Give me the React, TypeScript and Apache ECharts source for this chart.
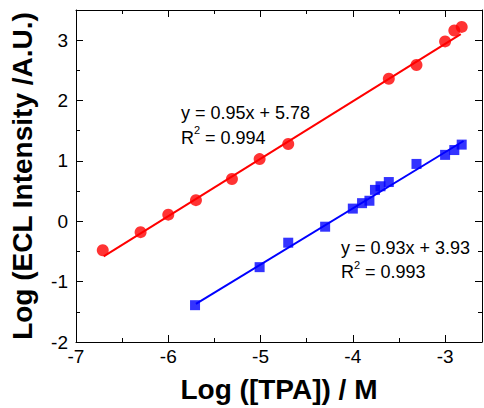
import React, { useEffect, useRef } from "react";
import * as echarts from "echarts";

const xRed = [-6.71, -6.3, -6.0, -5.7, -5.31, -5.01, -4.7, -3.61, -3.31, -3.0, -2.9, -2.82];
const yRed = [-0.48, -0.18, 0.11, 0.35, 0.7, 1.03, 1.28, 2.36, 2.59, 2.98, 3.16, 3.22];
const xBlue = [-5.71, -5.01, -4.7, -4.3, -4.0, -3.9, -3.82, -3.76, -3.7, -3.61, -3.31, -3.0, -2.9, -2.82];
const yBlue = [-1.39, -0.76, -0.355, -0.09, 0.21, 0.3, 0.34, 0.52, 0.58, 0.65, 0.95, 1.1, 1.18, 1.27];
const redFitX = [-6.7, -2.83];
const redFitY = [-0.58, 3.1];
const blueFitX = [-5.7, -2.8];
const blueFitY = [-1.37, 1.33];
const xMajor = [-7, -6, -5, -4, -3];
const xMinor = [-6.5, -5.5, -4.5, -3.5];
const yMajor = [-2, -1, 0, 1, 2, 3];
const yMinor = [-1.5, -0.5, 0.5, 1.5, 2.5];
const xTitle = "Log ([TPA]) / M";
const yTitle = "Log (ECL Intensity /A.U.)";
const redEq = "y = 0.95x + 5.78";
const redR2 = " = 0.994";
const blueEq = "y = 0.93x + 3.93";
const blueR2 = " = 0.993";

const FONT = "'Liberation Sans', Arial, Helvetica, sans-serif";

function zip(xs: number[], ys: number[]) {
  return xs.map((x, i) => [x, ys[i]]);
}

export default function App() {
  const ref = useRef<HTMLDivElement>(null);
  useEffect(() => {
    if (!ref.current) return;
    const chart = echarts.init(ref.current, undefined, { renderer: "svg" });
    const line = { show: true, onZero: false, lineStyle: { color: "#000", width: 1 } };
    const noLine = { show: false, onZero: false };
    const mkX = (pos: string, major: boolean, labels: boolean, extra: any = {}) => ({
      type: "value",
      position: pos,
      min: -7,
      max: -2.6,
      interval: 1,
      axisLine: major ? line : noLine,
      splitLine: { show: false },
      axisTick: {
        show: true,
        inside: true,
        length: major ? 7 : 4,
        customValues: major ? xMajor : xMinor,
        lineStyle: { color: "#000", width: 1 },
      },
      axisLabel: labels
        ? { show: true, customValues: xMajor, fontSize: 19, color: "#000", fontFamily: FONT, margin: 5 }
        : { show: false },
      ...extra,
    });
    const mkY = (pos: string, major: boolean, labels: boolean, extra: any = {}) => ({
      type: "value",
      position: pos,
      min: -2,
      max: 3.5,
      interval: 1,
      axisLine: major ? line : noLine,
      splitLine: { show: false },
      axisTick: {
        show: true,
        inside: true,
        length: major ? 7 : 4,
        customValues: major ? yMajor : yMinor,
        lineStyle: { color: "#000", width: 1 },
      },
      axisLabel: labels
        ? { show: true, customValues: yMajor, fontSize: 19, color: "#000", fontFamily: FONT, margin: 8 }
        : { show: false },
      ...extra,
    });
    const titleStyle = { fontSize: 28, fontWeight: "bold", color: "#000", fontFamily: FONT };
    const txt = (x: number, y: number, text: string, size = 18) => ({
      type: "text",
      x,
      y,
      style: { text, fontSize: size, fontFamily: FONT, fill: "#000", textVerticalAlign: "middle" },
    });
    chart.setOption({
      animation: false,
      backgroundColor: "#fff",
      grid: { left: 76, top: 10, right: 2, bottom: 62, containLabel: false },
      xAxis: [
        mkX("bottom", true, true, {
          name: xTitle,
          nameLocation: "middle",
          nameGap: 33,
          nameTextStyle: titleStyle,
        }),
        mkX("bottom", false, false),
        mkX("top", true, false),
        mkX("top", false, false),
      ],
      yAxis: [
        mkY("left", true, true, {
          name: yTitle,
          nameLocation: "middle",
          nameGap: 40,
          nameTextStyle: titleStyle,
        }),
        mkY("left", false, false),
        mkY("right", true, false),
        mkY("right", false, false),
      ],
      series: [
        {
          type: "line",
          data: zip(redFitX, redFitY),
          symbol: "none",
          lineStyle: { color: "#ff0000", width: 2 },
          z: 1,
        },
        {
          type: "line",
          data: zip(blueFitX, blueFitY),
          symbol: "none",
          lineStyle: { color: "#0000ff", width: 2 },
          z: 1,
        },
        {
          type: "scatter",
          data: zip(xRed, yRed),
          symbol: "circle",
          symbolSize: 12,
          itemStyle: { color: "#ff0000" },
          z: 3,
        },
        {
          type: "scatter",
          data: zip(xBlue, yBlue),
          symbol: "rect",
          symbolSize: 10,
          itemStyle: { color: "#0000ff" },
          z: 3,
        },
      ],
      graphic: [
        txt(181, 113, redEq),
        txt(181, 137.5, "R"),
        txt(194, 130, "2", 11),
        txt(200, 137.5, redR2),
        txt(341, 248.3, blueEq),
        txt(341, 272, "R"),
        txt(354, 264.5, "2", 11),
        txt(360, 272, blueR2),
      ],
    });
    return () => chart.dispose();
  }, []);
  return (
    <div
      ref={ref}
      style={{ position: "fixed", left: 0, top: 0, width: 484, height: 408, background: "#fff" }}
    />
  );
}
